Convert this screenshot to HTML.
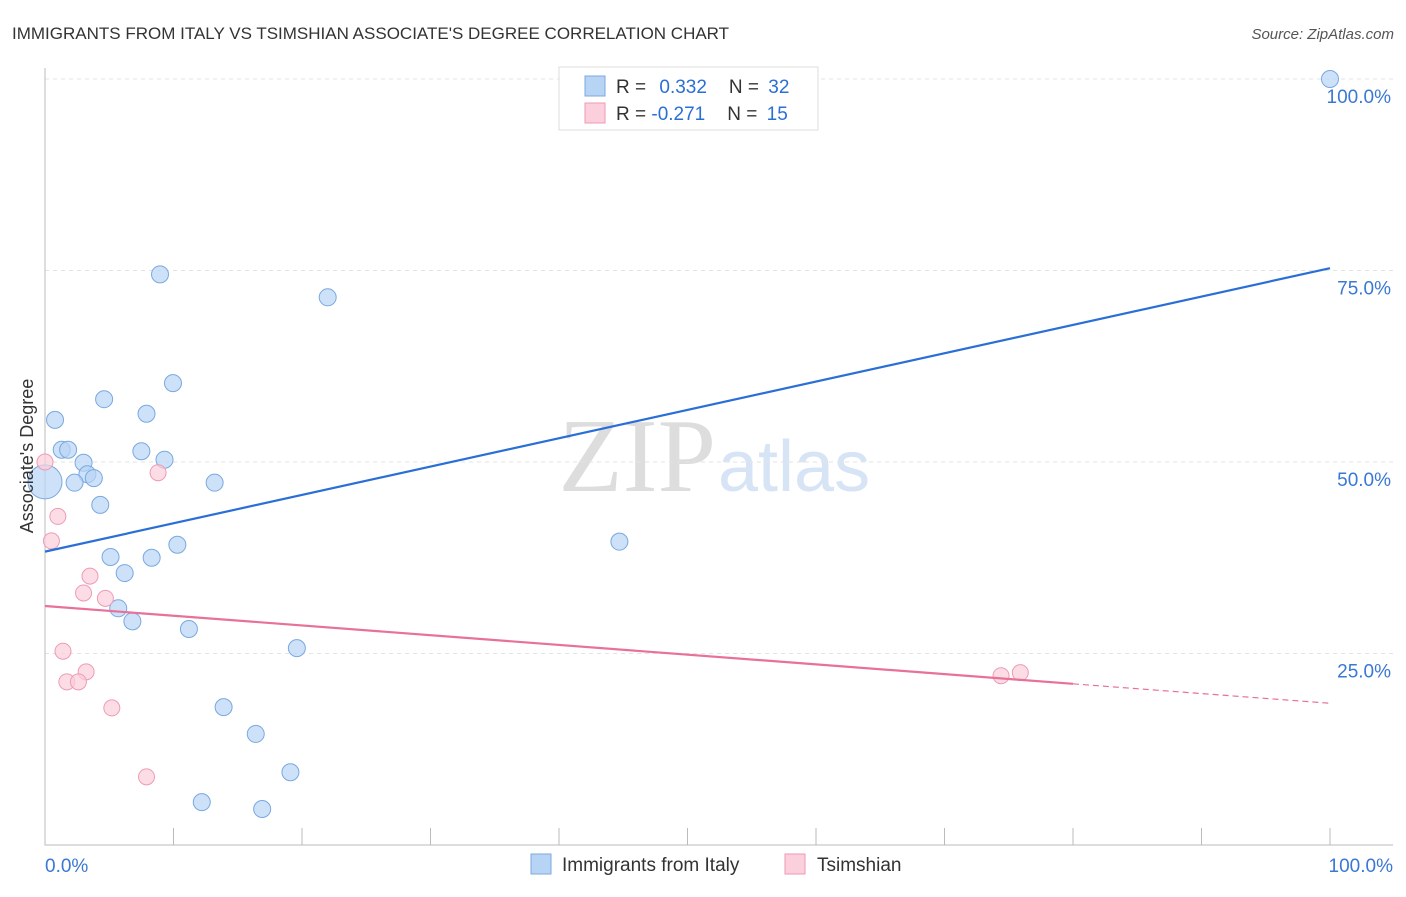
<!DOCTYPE html>
<html><head><meta charset="utf-8"><style>
body{margin:0;background:#fff;font-family:"Liberation Sans",sans-serif}
</style></head><body>
<svg id="c" width="1406" height="892" xmlns="http://www.w3.org/2000/svg">
<text x="12" y="39" font-size="17" fill="#333">IMMIGRANTS FROM ITALY VS TSIMSHIAN ASSOCIATE'S DEGREE CORRELATION CHART</text>
<text x="1394" y="39" font-size="15" fill="#555" font-style="italic" text-anchor="end">Source: ZipAtlas.com</text>
<text x="716" y="491" font-size="105" fill="#ddd" text-anchor="end" font-family="Liberation Serif,serif">ZIP</text>
<text x="718" y="491" font-size="72" fill="#d6e4f5">atlas</text>
<g id="grid"></g><g id="axes"></g><g id="marks"></g>
<text x="33" y="456" font-size="18" fill="#333" text-anchor="middle" transform="rotate(-90 33 456)">Associate's Degree</text>
<g>
<rect x="559" y="67" width="259" height="63" fill="#fff" stroke="#ddd"/>
<rect x="585" y="76" width="20" height="20" fill="#b8d4f5" stroke="#7aa8e0"/>
<rect x="585" y="103" width="20" height="20" fill="#fbcfdc" stroke="#ef9ab5"/>
<text x="616" y="93" font-size="19" fill="#333">R = <tspan fill="#2a6fd6" dx="8">0.332</tspan><tspan dx="22">N = </tspan><tspan fill="#2a6fd6" dx="4">32</tspan></text>
<text x="616" y="120" font-size="19" fill="#333">R = <tspan fill="#2a6fd6">-0.271</tspan><tspan dx="22">N = </tspan><tspan fill="#2a6fd6" dx="4">15</tspan></text>
</g>
<g>
<rect x="531" y="854" width="20" height="20" fill="#b8d4f5" stroke="#7aa8e0"/>
<text x="562" y="871" font-size="19" fill="#333">Immigrants from Italy</text>
<rect x="785" y="854" width="20" height="20" fill="#fbcfdc" stroke="#ef9ab5"/>
<text x="817" y="871" font-size="19" fill="#333">Tsimshian</text>
</g>
</svg>
<script>
const yTicks=[25,50,75,100];
const yTickLabels=["25.0%","50.0%","75.0%","100.0%"];
const xTicks=[0,10,20,30,40,50,60,70,80,90,100];
const italyX=[100,8.95,22.0,9.96,4.6,0.78,7.9,1.3,1.8,7.5,9.3,3.0,3.3,3.8,2.3,13.2,0,4.3,10.3,44.7,5.1,8.3,6.2,5.7,6.8,11.2,19.6,13.9,16.4,19.1,12.2,16.9];
const italyY=[100,74.5,71.5,60.3,58.2,55.5,56.3,51.6,51.6,51.4,50.3,49.9,48.4,47.9,47.3,47.3,47.4,44.4,39.2,39.6,37.6,37.5,35.5,30.9,29.2,28.2,25.7,18.0,14.5,9.5,5.6,4.7];
const tsimX=[0,8.8,1.0,0.5,3.5,3.0,4.7,1.4,3.2,1.7,2.6,5.2,7.9,74.4,75.9];
const tsimY=[50,48.6,42.9,39.7,35.1,32.9,32.2,25.3,22.6,21.3,21.3,17.9,8.9,22.1,22.5];
const italyTrend=[38.3,75.3];
const tsimTrend=[31.2,18.5];
const tsimSolidEnd=80;
const X=v=>45+v*12.85, Y=v=>845-v*7.66;
const NS="http://www.w3.org/2000/svg";
function mk(p,t,a){const e=document.createElementNS(NS,t);for(const k in a)e.setAttribute(k,a[k]);document.getElementById(p).appendChild(e);return e;}
yTicks.forEach((t,i)=>{
 const l=mk('grid','line',{x1:45,x2:1393,y1:Y(t),y2:Y(t),stroke:'#e3e3e3','stroke-dasharray':'4,4'});
 
 
 const tx=mk('grid','text',{x:1391,y:Y(t)+24,'font-size':19,fill:'#3a78d4','text-anchor':'end'});tx.textContent=yTickLabels[i];
 
 
});
const ax=mk('axes','path',{d:'M45 68V845H1393',stroke:'#bbb',fill:'none'});


xTicks.forEach(t=>{const l=mk('axes','line',{x1:X(t),x2:X(t),y1:845,y2:828,stroke:'#bbb'});
 
 });
[[0,'0.0%','start',45],[100,'100.0%','end',1393]].forEach(a=>{const t=mk('axes','text',{x:a[3],y:872,'font-size':19,fill:'#3a78d4','text-anchor':a[2]});t.textContent=a[1];
 
 });
italyX.forEach((v,i)=>{const c=mk('marks','circle',{cx:X(v),cy:Y(italyY[i]),r:v===0?17:8.5,fill:'#b8d4f5','fill-opacity':0.7,stroke:'#7aa8e0'});
 
 });
tsimX.forEach((v,i)=>{const c=mk('marks','circle',{cx:X(v),cy:Y(tsimY[i]),r:8,fill:'#fbcfdc','fill-opacity':0.7,stroke:'#ef9ab5'});
 
 });
const bl=mk('marks','line',{x1:X(0),y1:Y(italyTrend[0]),x2:X(100),y2:Y(italyTrend[1]),stroke:'#2a6fd6','stroke-width':2.2});


const ty=v=>tsimTrend[0]+(tsimTrend[1]-tsimTrend[0])*v/100;
const pl=mk('marks','line',{x1:X(0),y1:Y(ty(0)),x2:X(tsimSolidEnd),y2:Y(ty(tsimSolidEnd)),stroke:'#e8719a','stroke-width':2.2});


const pd=mk('marks','line',{x1:X(tsimSolidEnd),y1:Y(ty(tsimSolidEnd)),x2:X(100),y2:Y(ty(100)),stroke:'#e8719a','stroke-width':1.2,'stroke-dasharray':'6,4'});


</script>
</body></html>
